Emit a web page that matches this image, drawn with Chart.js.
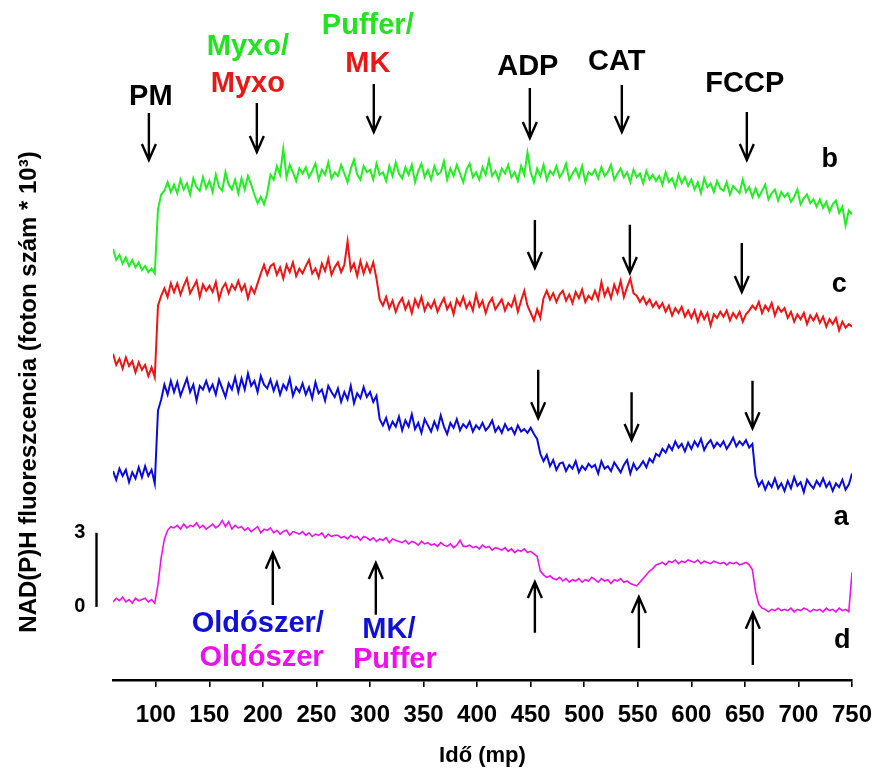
<!DOCTYPE html>
<html>
<head>
<meta charset="utf-8">
<script src="https://cdn.jsdelivr.net/npm/chart.js@4/dist/chart.umd.min.js"></script>
<style>
  html, body { margin: 0; padding: 0; background: #fff; }
  #wrap { width: 874px; height: 772px; }
</style>
</head>
<body>
<div id="wrap"><canvas id="chart" width="874" height="772"></canvas></div>
<script>
// Sampling clock of the recordings (s)
const SAMPLE_START = 60, SAMPLE_STEP = 3, SAMPLE_COUNT = 231;
const sampleTimes = Array.from({ length: SAMPLE_COUNT }, (_, i) => SAMPLE_START + i * SAMPLE_STEP);

// Time axis tick labels (s)
const timeTicks = [100, 150, 200, 250, 300, 350, 400, 450, 500, 550, 600, 650, 700, 750];

// NAD(P)H fluorescence (foton szám * 10^3), each trace relative to its own start level
const traceB = [
  0.5, 0.05, 0.25, -0.1, 0.15, -0.2, 0.05, -0.25, -0.05, -0.35,
  -0.2, -0.45, -0.3, -0.5, 2.1, 2.7, 2.85, 3.2, 2.8, 3.1,
  2.75, 3.3, 2.9, 3.15, 2.7, 3.35, 3.0, 2.85, 3.4, 2.95,
  3.25, 2.8, 3.5, 3.0, 2.85, 3.6, 3.1, 2.9, 3.3, 2.75,
  3.35, 2.9, 3.45, 3.1, 2.7, 2.35, 2.6, 2.3, 2.75, 3.5,
  3.3, 3.85, 3.5, 4.55, 3.4, 3.9, 3.6, 3.25, 3.75, 3.55,
  3.8, 3.4, 3.65, 3.95, 3.3, 3.7, 3.5, 4.0, 3.35, 3.6,
  3.45, 3.9, 3.55, 3.2, 3.75, 4.1, 3.5, 3.3, 3.85, 3.6,
  3.7, 3.3, 3.95, 3.5, 3.6, 3.25, 3.85, 3.45, 4.0, 3.55,
  3.35, 3.8, 3.5, 3.9, 3.2, 3.65, 3.95, 3.4, 3.7, 3.3,
  3.85, 3.5, 3.6, 4.05, 3.3, 3.75, 3.45, 3.9, 3.55, 3.2,
  3.7, 3.95, 3.4, 3.6, 3.3, 3.8, 3.5, 4.1, 3.45, 3.65,
  3.3, 3.75, 3.55, 3.9, 3.4, 3.6, 3.25, 3.85, 3.5, 4.4,
  3.6, 3.2, 3.75, 3.45, 3.9, 3.3, 3.65, 3.5, 3.85, 3.4,
  3.6, 3.95, 3.3, 3.55, 3.75, 3.4, 3.85, 3.2, 3.6, 3.5,
  3.7, 3.35, 3.8, 3.45, 3.6, 3.9, 3.3, 3.55, 3.75, 3.4,
  3.6, 3.2, 3.7, 3.4, 3.55, 3.15, 3.65, 3.3, 3.5, 3.25,
  3.45, 3.1, 3.6, 3.2, 3.35, 3.0, 3.5, 3.15, 3.4, 3.05,
  3.3, 2.9, 3.2, 2.75, 3.35, 3.0, 3.15, 2.8, 3.25, 2.95,
  2.85, 3.2, 2.7, 3.05, 2.9, 2.75, 3.3, 2.8, 3.0, 2.6,
  2.95, 2.6, 2.85, 3.1, 2.5, 2.75, 2.9, 2.45, 2.8, 2.6,
  2.75, 2.4, 2.6, 2.9, 2.3, 2.55, 2.7, 2.35, 2.5, 2.2,
  2.5, 2.15, 2.4, 2.0, 2.3, 2.45, 1.95, 2.2, 1.45, 2.05,
  1.9
];
const traceC = [
  0.65, 0.2, 0.45, 0.05, 0.5, 0.15, 0.35, -0.1, 0.3, 0.0,
  0.2, -0.25, 0.1, -0.3, 2.6, 3.0, 3.3, 2.95, 3.5, 3.15,
  3.5, 3.05, 3.4, 3.7, 3.1, 3.35, 3.6, 2.95, 3.45, 3.2,
  3.4, 3.15, 3.55, 2.85, 3.3, 3.5, 3.1, 3.45, 3.25, 3.6,
  3.2, 3.45, 2.9, 3.35, 3.1, 3.5, 3.9, 4.25, 3.85, 4.2,
  4.3, 3.85, 4.15, 3.7, 4.25, 3.95, 4.35, 3.8, 4.1, 3.9,
  4.2, 4.45, 3.9, 4.1, 3.75, 4.3, 4.0, 4.5, 3.85, 4.15,
  4.35, 3.95, 4.25, 5.2, 4.05, 4.3, 3.8, 4.4, 3.9, 4.3,
  3.95, 4.35, 3.7, 2.85, 2.6, 2.95, 2.5, 2.8, 2.35, 2.7,
  2.9, 2.45, 2.75, 2.3, 2.85, 2.55, 2.95, 2.4, 2.7, 2.5,
  2.8, 2.35, 2.65, 2.9, 2.45, 2.7, 2.25, 2.85, 2.6, 2.95,
  2.5, 2.75, 2.4, 3.05, 2.55, 2.8, 2.3, 2.7, 2.9, 2.45,
  2.65, 2.85, 2.4, 2.7, 2.55, 2.95, 2.35, 2.8, 3.2, 2.6,
  2.3, 2.0, 2.45, 2.1, 2.9, 3.2, 2.85, 3.1, 2.75, 3.05,
  3.2, 2.8, 3.05, 2.7, 3.15, 2.9, 3.25, 2.75, 3.0, 2.85,
  3.2, 2.85, 3.55, 3.0, 3.3, 2.9, 3.45, 3.1, 3.6, 2.95,
  3.35, 3.7, 3.1, 3.0, 2.75, 2.95, 2.65, 2.85, 2.55, 2.75,
  2.5, 2.7, 2.35, 2.6, 2.2, 2.5, 2.3, 2.55, 2.15, 2.4,
  2.1, 2.4, 1.95, 2.35, 2.05, 2.3, 1.8, 2.25, 2.1, 2.35,
  2.15, 2.4, 2.0, 2.3, 2.1, 2.35, 1.95, 2.25, 2.4, 2.6,
  2.45, 2.75, 2.3, 2.6, 2.4, 2.7, 2.2, 2.55, 2.35, 2.5,
  2.1, 2.35, 1.95, 2.25, 2.05, 2.3, 1.85, 2.2, 2.0, 2.25,
  1.9, 2.15, 1.75, 2.05, 1.85, 2.1, 1.6, 1.95, 1.7, 1.85,
  1.75
];
const traceA = [
  0.1, -0.25, 0.2, -0.1, 0.15, -0.35, 0.05, -0.2, 0.25, -0.15,
  0.3, -0.1, 0.15, -0.4, 2.55, 3.0, 3.6, 3.2, 3.75, 3.3,
  3.7, 3.15, 3.5, 3.85, 3.3, 3.6, 2.95, 3.55, 3.4, 3.75,
  3.35, 3.6, 3.2, 3.8, 3.45, 3.1, 3.65, 3.4, 3.9, 3.3,
  3.85, 3.4, 4.05, 3.55, 3.75, 3.3, 3.95, 3.6, 3.45, 3.8,
  3.35, 3.7, 3.2, 3.6, 3.4, 3.85, 3.15, 3.5, 3.3, 3.65,
  3.2, 3.5, 3.05, 3.7, 3.25, 3.4, 2.95, 3.55, 3.3, 3.1,
  3.45, 2.9, 3.3, 3.0, 3.55, 2.85, 3.25, 3.05, 3.5, 3.1,
  3.3, 2.9, 3.15, 2.2, 1.95, 2.25, 1.8, 2.1, 1.9, 2.3,
  1.75, 2.15, 1.9, 2.4, 1.8, 2.05, 1.65, 2.2, 1.95, 1.7,
  2.1, 1.8, 2.35, 1.9, 1.6, 2.05, 1.85, 2.2, 1.75, 2.0,
  1.85, 2.1, 1.7, 1.95, 1.8, 2.05, 1.75, 1.9, 2.15, 1.7,
  1.9, 1.65, 2.0, 1.75, 1.85, 1.6, 1.95, 1.7, 1.8, 1.65,
  1.85, 1.6, 1.4, 0.8, 0.5, 0.75, 0.3, 0.55, 0.15, 0.4,
  0.45, 0.1, 0.35, 0.2, 0.5, 0.05, 0.3, 0.15, 0.4, 0.25,
  0.35, 0.0, 0.5, 0.2, 0.3, 0.1, 0.45, 0.25, 0.05, 0.35,
  0.55, 0.0, 0.4, 0.15, 0.3, 0.5, 0.25, 0.6, 0.45, 0.8,
  0.7, 1.0, 0.85, 1.15, 0.95, 1.3, 1.05, 1.2, 0.9, 1.25,
  1.0, 1.3, 1.1, 1.4, 0.95, 1.2, 1.35, 1.05, 1.25, 1.1,
  1.3, 1.0, 1.2, 1.45, 1.1, 1.3, 1.15, 1.35, 1.05, 1.2,
  -0.1, -0.5, -0.3, -0.65, -0.35, -0.55, -0.2, -0.6, -0.4, -0.7,
  -0.3, -0.6, -0.15, -0.5, -0.35, -0.75, -0.25, -0.45, -0.6, -0.3,
  -0.5, -0.2, -0.55, -0.35, -0.7, -0.4, -0.55, -0.25, -0.65, -0.45,
  0.0
];
const traceD = [
  0.2, 0.35, 0.25, 0.4, 0.2, 0.3, 0.15, 0.35, 0.25, 0.3,
  0.35, 0.2, 0.3, 0.15, 0.9, 2.0, 2.75, 3.1, 3.25, 3.2,
  3.3, 3.15, 3.35, 3.2, 3.3, 3.25, 3.4, 3.2, 3.3, 3.15,
  3.25, 3.35, 3.2, 3.3, 3.5, 3.25, 3.45, 3.15, 3.3, 3.2,
  3.25, 3.1, 3.2, 3.05, 3.15, 3.25, 3.0, 3.15, 3.1, 3.2,
  3.0, 3.1, 2.95, 3.05, 3.1, 2.9, 3.05, 3.0, 2.95, 3.05,
  2.9, 3.0, 2.85, 2.95, 2.9, 3.0, 2.8, 2.95, 2.85, 2.9,
  2.9, 2.8, 2.85, 2.75, 2.9, 2.8, 2.85, 2.7, 2.85, 2.8,
  2.7, 2.8, 2.65, 2.75, 2.7, 2.8, 2.6, 2.75, 2.7, 2.65,
  2.6, 2.7, 2.55, 2.65, 2.6, 2.5, 2.65, 2.55, 2.6, 2.5,
  2.55, 2.45, 2.6, 2.5, 2.45, 2.55, 2.4, 2.5, 2.7, 2.45,
  2.45, 2.5, 2.4, 2.45, 2.35, 2.5, 2.4, 2.45, 2.3, 2.4,
  2.35, 2.3, 2.4, 2.25, 2.35, 2.2, 2.3, 2.25, 2.35, 2.2,
  2.25, 2.15, 2.05, 1.45, 1.3, 1.2, 1.25, 1.15, 1.1, 1.2,
  1.05, 1.15, 1.0, 1.1, 1.05, 1.15, 1.0, 1.1, 1.05, 1.2,
  1.1, 1.0, 1.15, 1.05, 1.1, 0.95, 1.1, 1.05, 1.15, 1.0,
  1.05, 0.95, 0.9, 0.85, 1.0, 1.15, 1.3, 1.45, 1.55, 1.7,
  1.75, 1.8, 1.7, 1.85, 1.8, 1.9, 1.75, 1.85, 1.8, 1.9,
  1.85, 1.8, 1.9, 1.75, 1.85, 1.8, 1.75, 1.85, 1.8, 1.75,
  1.8, 1.7, 1.8, 1.75, 1.8, 1.7, 1.75, 1.8, 1.7, 1.5,
  0.6, 0.1, -0.05, -0.1, -0.2, -0.1, -0.15, -0.05, -0.15, -0.1,
  -0.15, -0.05, -0.2, -0.1, -0.15, -0.05, -0.1, -0.2, -0.1, -0.15,
  -0.1, -0.2, -0.05, -0.15, -0.1, -0.2, -0.05, -0.15, -0.1, -0.2,
  1.4
];

// Vertical display offsets of the stacked traces (same units)
const OFFSET_B = 14.0, OFFSET_C = 9.6, OFFSET_A = 5.4, OFFSET_D = 0;

// Scale bar (foton szám * 10^3)
const scaleBar = { low: 0, high: 3, time: 44.6, labelTime: 29 };

const INK = '#000000';
const GREEN = '#22EE22', RED = '#EE1414', BLUE = '#0A0AE0', MAGENTA = '#EE11EE';
const GREEN_TEXT = '#22E222', RED_TEXT = '#E81818', BLUE_TEXT = '#1010D8', MAGENTA_TEXT = '#EE11EE';

// Additions: arrows (time, tail value, tip value)
const additionArrows = [
  { t: 93.5, from: 20.0, to: 18.1 },   // PM
  { t: 194.3, from: 20.4, to: 18.42 }, // Myxo
  { t: 303.5, from: 21.17, to: 19.23 },// Puffer / MK
  { t: 449.2, from: 21.01, to: 18.99 },// ADP
  { t: 535.1, from: 21.13, to: 19.23 },// CAT
  { t: 651.8, from: 20.04, to: 18.1 }, // FCCP
  { t: 453.9, from: 15.67, to: 13.72 },
  { t: 542.6, from: 15.47, to: 13.52 },
  { t: 647.1, from: 14.74, to: 12.75 },
  { t: 457.0, from: 9.60, to: 7.64 },
  { t: 544.2, from: 8.69, to: 6.76 },
  { t: 657.1, from: 9.16, to: 7.23 },
  { t: 209.2, from: 0.08, to: 2.19 },
  { t: 305.4, from: -0.32, to: 1.78 },
  { t: 453.9, from: -1.05, to: 1.01 },
  { t: 551.0, from: -1.66, to: 0.40 },
  { t: 657.4, from: -2.35, to: -0.24 }
];

const additionLabels = [
  { text: 'PM', t: 95.3, v: 20.32, color: INK },
  { text: 'Myxo/', t: 185.9, v: 22.35, color: GREEN_TEXT },
  { text: 'Myxo', t: 185.9, v: 20.85, color: RED_TEXT },
  { text: 'Puffer/', t: 297.9, v: 23.2, color: GREEN_TEXT },
  { text: 'MK', t: 297.9, v: 21.66, color: RED_TEXT },
  { text: 'ADP', t: 447.3, v: 21.54, color: INK },
  { text: 'CAT', t: 530.4, v: 21.74, color: INK },
  { text: 'FCCP', t: 649.9, v: 20.85, color: INK },
  { text: 'Oldószer/', t: 195.2, v: -1.0, color: BLUE_TEXT },
  { text: 'Oldószer', t: 198.7, v: -2.38, color: MAGENTA_TEXT },
  { text: 'MK/', t: 317.6, v: -1.26, color: BLUE_TEXT },
  { text: 'Puffer', t: 323.2, v: -2.47, color: MAGENTA_TEXT }
];

const traceLetters = [
  { text: 'b', t: 729.3, v: 17.83 },
  { text: 'c', t: 738.2, v: 12.75 },
  { text: 'a', t: 740.0, v: 3.32 },
  { text: 'd', t: 741.0, v: -1.66 }
];

const FAMILY = '"Liberation Sans", Arial, Helvetica, sans-serif';
const boldFont = size => `bold ${size}px ${FAMILY}`;

function toPoints(values, offset) {
  return sampleTimes.map((t, i) => ({ x: t, y: values[i] + offset }));
}

function drawArrow(ctx, x, yTail, yTip) {
  const dir = Math.sign(yTip - yTail);
  ctx.beginPath();
  ctx.moveTo(x, yTail);
  ctx.lineTo(x, yTip);
  ctx.moveTo(x - 7, yTip - dir * 16);
  ctx.lineTo(x, yTip);
  ctx.lineTo(x + 7, yTip - dir * 16);
  ctx.stroke();
}

const annotationPlugin = {
  id: 'annotations',
  afterDraw(chart) {
    const { ctx, scales } = chart;
    const xs = scales.x, ys = scales.y;
    ctx.save();

    // arrows
    ctx.strokeStyle = INK;
    ctx.lineWidth = 2.4;
    ctx.lineCap = 'butt';
    ctx.lineJoin = 'miter';
    additionArrows.forEach(a => {
      drawArrow(ctx, xs.getPixelForValue(a.t), ys.getPixelForValue(a.from), ys.getPixelForValue(a.to));
    });

    // addition labels
    ctx.textAlign = 'center';
    ctx.textBaseline = 'alphabetic';
    ctx.font = boldFont(29);
    additionLabels.forEach(l => {
      ctx.fillStyle = l.color;
      ctx.fillText(l.text, xs.getPixelForValue(l.t), ys.getPixelForValue(l.v));
    });

    // trace letters
    ctx.fillStyle = INK;
    ctx.font = boldFont(27);
    traceLetters.forEach(l => {
      ctx.fillText(l.text, xs.getPixelForValue(l.t), ys.getPixelForValue(l.v));
    });

    // scale bar
    const bx = xs.getPixelForValue(scaleBar.time);
    ctx.lineWidth = 2.4;
    ctx.beginPath();
    ctx.moveTo(bx, ys.getPixelForValue(scaleBar.low));
    ctx.lineTo(bx, ys.getPixelForValue(scaleBar.high));
    ctx.stroke();
    ctx.font = boldFont(20);
    ctx.textBaseline = 'middle';
    const lx = xs.getPixelForValue(scaleBar.labelTime);
    ctx.fillText(String(scaleBar.high), lx, ys.getPixelForValue(scaleBar.high));
    ctx.fillText(String(scaleBar.low), lx, ys.getPixelForValue(scaleBar.low));

    // axis titles
    ctx.textBaseline = 'alphabetic';
    ctx.font = boldFont(22);
    ctx.fillText('Idő (mp)', (chart.chartArea.left + chart.chartArea.right) / 2, 762);

    ctx.save();
    ctx.translate(36, 392);
    ctx.rotate(-Math.PI / 2);
    ctx.font = boldFont(24);
    ctx.fillText('NAD(P)H fluoreszcencia (foton szám * 10³)', 0, 0);
    ctx.restore();

    ctx.restore();
  }
};

const lineStyle = (color, width) => ({
  borderColor: color,
  borderWidth: width,
  pointRadius: 0,
  tension: 0,
  fill: false
});

new Chart(document.getElementById('chart'), {
  type: 'line',
  data: {
    datasets: [
      { label: 'd', data: toPoints(traceD, OFFSET_D), ...lineStyle(MAGENTA, 1.6) },
      { label: 'a', data: toPoints(traceA, OFFSET_A), ...lineStyle(BLUE, 2) },
      { label: 'c', data: toPoints(traceC, OFFSET_C), ...lineStyle(RED, 2) },
      { label: 'b', data: toPoints(traceB, OFFSET_B), ...lineStyle(GREEN, 2) }
    ]
  },
  options: {
    responsive: false,
    animation: false,
    devicePixelRatio: 1,
    layout: { padding: { left: 113, right: 22, top: 10, bottom: 0 } },
    plugins: { legend: { display: false }, tooltip: { enabled: false } },
    scales: {
      x: {
        type: 'linear',
        min: 60,
        max: 750,
        afterBuildTicks: s => { s.ticks = timeTicks.map(v => ({ value: v })); },
        afterFit: s => { s.height = 92; s.paddingLeft = 0; s.paddingRight = 0; },
        border: { display: true, color: INK, width: 2.6 },
        grid: { display: true, drawOnChartArea: false, drawTicks: true, tickLength: 7, color: INK, lineWidth: 1.6 },
        ticks: {
          color: INK,
          font: { family: FAMILY, weight: 'bold', size: 24 },
          padding: 14,
          maxRotation: 0,
          autoSkip: false
        }
      },
      y: { display: false, min: -2.96, max: 24.17 }
    }
  },
  plugins: [annotationPlugin]
});
</script>
</body>
</html>
